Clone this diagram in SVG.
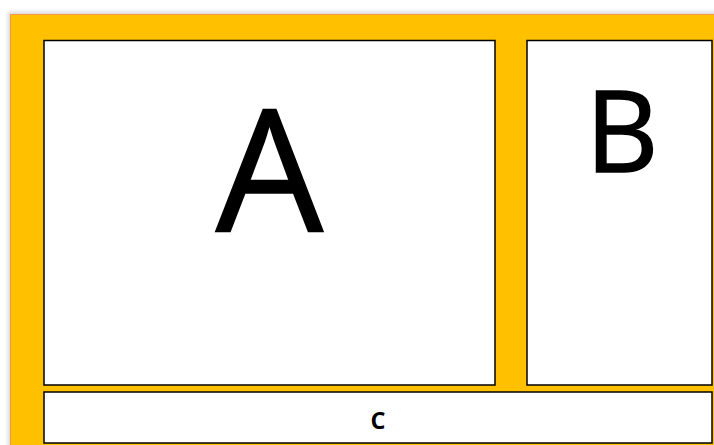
<svg xmlns="http://www.w3.org/2000/svg" width="714" height="445" viewBox="0 0 714 445">
<style>
.box{fill:#fff;stroke:#000;stroke-width:1.5}
.big{font-family:"Open Sans","Liberation Sans",sans-serif;fill:#000;text-anchor:middle;stroke:#000;stroke-width:1.5}
.small{font-family:"Open Sans","Liberation Sans",sans-serif;font-weight:bold;fill:#000;text-anchor:middle}
</style>
<defs>
<filter id="sh" x="-5%" y="-5%" width="110%" height="110%">
<feGaussianBlur stdDeviation="2"/>
</filter>
</defs>
<rect width="714" height="445" fill="#fff"/>
<rect x="8" y="12" width="720" height="450" fill="#bbb" filter="url(#sh)" opacity="0.6"/>
<rect x="10.5" y="14.5" width="720" height="450" fill="#FFC000" stroke="#F79646" stroke-width="1"/>
<g id="nodeA">
<rect class="box" x="44" y="40.5" width="451" height="344.5"/>
<text class="big" x="269.5" y="232" font-size="170">A</text>
</g>
<g id="nodeB">
<rect class="box" x="527" y="40.5" width="185" height="344.5"/>
<text class="big" x="622" y="172" font-size="113">B</text>
</g>
<g id="nodeC">
<rect class="box" x="44" y="392" width="668" height="51"/>
<text class="small" x="378" y="429" font-size="23.5">C</text>
</g>
<g id="connectors"/>
</svg>
